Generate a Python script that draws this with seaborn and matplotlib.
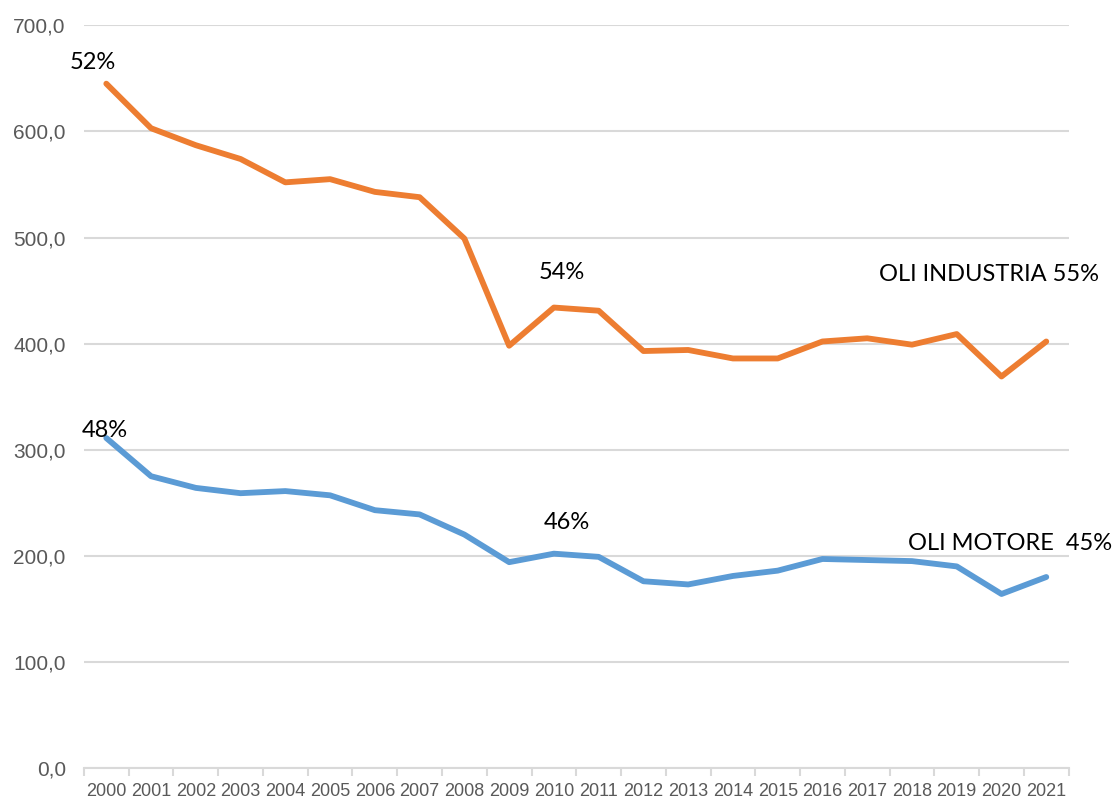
import pandas as pd
import matplotlib.pyplot as plt
import seaborn as sns
from matplotlib.ticker import FixedLocator, FuncFormatter

# values
years = [str(y) for y in range(2000, 2022)]
oli_industria = [645, 603, 587, 574, 552, 555, 543, 538, 499, 398, 434,
                 431, 393, 394, 386, 386, 402, 405, 399, 409, 369, 402]
oli_motore = [311, 275, 264, 259, 261, 257, 243, 239, 220, 194, 202,
              199, 176, 173, 181, 186, 197, 196, 195, 190, 164, 180]
series_names = ["OLI INDUSTRIA", "OLI MOTORE"]
colors = ["#ED7D31", "#5B9BD5"]

dfx = pd.DataFrame({
    "anno": years * 2,
    "valore": oli_industria + oli_motore,
    "serie": [series_names[0]] * len(years) + [series_names[1]] * len(years),
})

sns.set_style("white")
plt.rcParams["font.family"] = ["Liberation Sans", "DejaVu Sans"]

f = plt.figure(figsize=(11.19, 8.09), dpi=100)
ax = f.add_axes([0.075, 0.0507, 0.880, 0.918])

sns.lineplot(data=dfx, x="anno", y="valore", hue="serie",
             palette=dict(zip(series_names, colors)), linewidth=4.2,
             legend=False, ax=ax)

ax.set_ylim(0, 700)
ax.set_xlim(-0.5, len(years) - 0.5)
ax.set_yticks(range(0, 701, 100))
ax.yaxis.set_major_formatter(FuncFormatter(lambda v, p: f"{v:.1f}".replace(".", ",")))
ax.grid(axis="y", color="#d9d9d9", linewidth=1.5)
ax.set_axisbelow(True)
ax.set_xlabel("")
ax.set_ylabel("")

for side in ["top", "right", "left"]:
    ax.spines[side].set_visible(False)
ax.spines["bottom"].set_color("#d9d9d9")
ax.spines["bottom"].set_linewidth(1.5)

ax.tick_params(axis="y", length=0, pad=13, labelsize=15, labelcolor="#595959")
ax.tick_params(axis="x", which="major", bottom=True, length=0, pad=11,
               labelsize=13, labelcolor="#595959")
ax.xaxis.set_minor_locator(FixedLocator([i - 0.5 for i in range(len(years) + 1)]))
ax.tick_params(axis="x", which="minor", bottom=True, length=6, width=1.5,
               color="#d9d9d9", direction="out")

ann = dict(fontsize=17, color="black", family=["Lato", "DejaVu Sans"],
           va="center", clip_on=False)
ax.text(-0.3, 665, "52%", ha="center", **ann)
ax.text(10.18, 467, "54%", ha="center", **ann)
ax.text(22.17, 465, "OLI INDUSTRIA 55%", ha="right", **ann)
ax.text(-0.04, 318, "48%", ha="center", **ann)
ax.text(10.3, 231, "46%", ha="center", **ann)
ax.text(22.48, 212, "OLI MOTORE  45%", ha="right", **ann)

f.savefig("out.png", dpi=100)
